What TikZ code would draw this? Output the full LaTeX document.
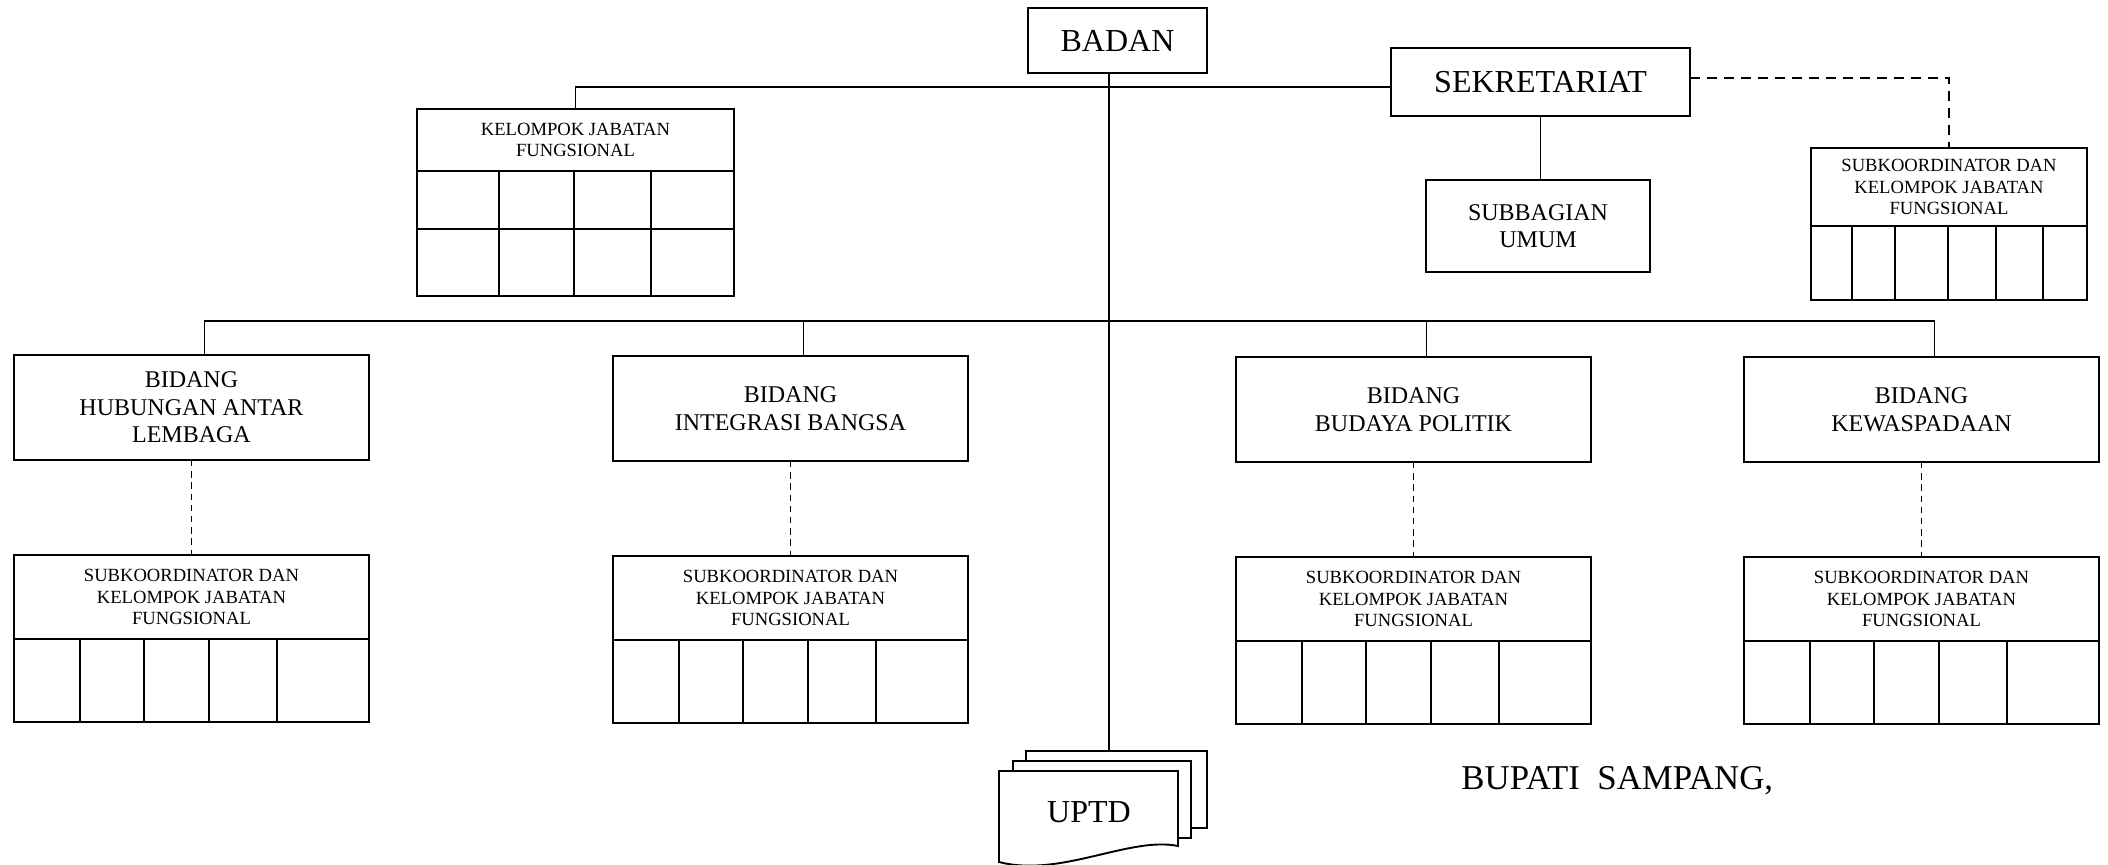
\documentclass[tikz,border=0pt]{standalone}
\usepackage{fontspec}
\setmainfont{Liberation Serif}
\usetikzlibrary{positioning}

\begin{document}
\begin{tikzpicture}[x=0.5pt, y=-0.5pt, box/.style={draw, line width=0.95pt, outer sep=0pt, inner sep=0pt, align=center}, big/.style={box, font=\fontsize{16}{19}\selectfont}, bid/.style={box, minimum width=177.5pt, minimum height=52.5pt, font=\fontsize{12}{13.8}\selectfont}, hdr/.style={box, font=\fontsize{9.3}{10.8}\selectfont}, sub/.style={hdr, minimum width=177.5pt, minimum height=42pt}, cel/.style={box, minimum width=177.5pt, minimum height=41.5pt}, ln/.style={line width=0.9pt}, dln/.style={ln, dash pattern=on 3.2pt off 2.4pt}, dln2/.style={ln, dash pattern=on 5pt off 3.5pt}]
\useasboundingbox (0,0) rectangle (2108,865);
\node[big, minimum width=89.5pt, minimum height=32.5pt] (bd) at (1117.5,40.5) {BADAN};
\node[big, minimum width=149.5pt, minimum height=34pt] (sk) at (1540.5,82) {SEKRETARIAT};
\node[box, font=\fontsize{12}{13.3}\selectfont, minimum width=112pt, minimum height=46pt] (su) at (1538,226) {SUBBAGIAN\\UMUM};
\node[hdr, minimum width=158.5pt, minimum height=31pt, anchor=north west] (kjf) at (417,109) {KELOMPOK JABATAN\\FUNGSIONAL};
\node[box, minimum width=158.5pt, minimum height=62.5pt, below=0pt of kjf] (kc) {};
\draw[box] (kc.north west) ++(0,58) -- ++(317,0);
\foreach \dd in {82,157,234} \draw[box] (kc.north west) ++(\dd,0) -- ++(0,125);
\node[hdr, minimum width=138pt, minimum height=39pt, anchor=north west] (sr) at (1811,148) {SUBKOORDINATOR DAN\\KELOMPOK JABATAN\\FUNGSIONAL};
\node[box, minimum width=138pt, minimum height=37pt, below=0pt of sr] (sc) {};
\foreach \dd in {41,84,137,185,232} \draw[box] (sc.north west) ++(\dd,0) -- ++(0,74);
\node[box, fill=white, minimum width=90.5pt, minimum height=38.5pt, anchor=north west] (up) at (1026,751) {};
\node[box, fill=white, minimum width=89pt, minimum height=38.5pt, anchor=north west] (um) at (1013,761) {};
\draw[box, fill=white] (999,771) -- (1178,771) -- (1178,846) .. controls (1130,836) and (1060,878) .. (999,862) -- cycle;
\node[font=\fontsize{16}{19}\selectfont, inner sep=0pt] (ut) at (1089,812) {UPTD};
\node[font=\fontsize{17.4}{20}\selectfont, inner sep=0pt, anchor=west] (bp) at (1461,781) {BUPATI\ \ SAMPANG,};
\coordinate (bar) at (1109,321);
\foreach \n/\x/\y/\txt in {1/14/355/{BIDANG\\HUBUNGAN ANTAR\\LEMBAGA}, 2/613/356/{BIDANG\\INTEGRASI BANGSA}, 3/1236/357/{BIDANG\\BUDAYA POLITIK}, 4/1744/357/{BIDANG\\KEWASPADAAN}} {
  \node[bid, anchor=north west] (b\n) at (\x,\y) {\txt};
  \node[sub, below=47.5pt of b\n] (s\n) {SUBKOORDINATOR DAN\\KELOMPOK JABATAN\\FUNGSIONAL};
  \node[cel, below=0pt of s\n] (c\n) {};
  \foreach \dd in {66,130,195,263} \draw[box] (c\n.north west) ++(\dd,0) -- ++(0,83);
  \draw[dln] (b\n.south) -- (s\n.north); \draw[ln] ([xshift=6.5pt]b\n.north) |- (bar);
}
\draw[ln] ([xshift=-4.25pt]bd.south) -- ([xshift=-4.25pt]bd.south |- up.north);
\draw[ln] (kjf.north) |- ([yshift=-2.5pt]sk.west); \draw[ln] (sk.south) -- (sk.south |- su.north);
\draw[dln2] ([yshift=2pt]sk.east) -| (sr.north);
\end{tikzpicture}
\end{document}
